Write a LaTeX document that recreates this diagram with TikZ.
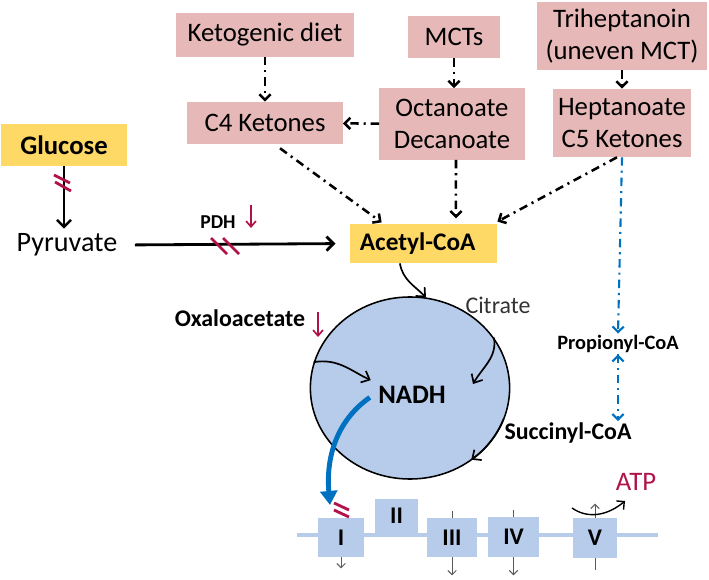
\documentclass[tikz,border=0pt]{standalone}
\usepackage{fontspec}
\setmainfont{Carlito}
\usetikzlibrary{arrows.meta,positioning,shapes.geometric}
\definecolor{dietpink}{RGB}{230,185,184}
\definecolor{fuelyellow}{RGB}{255,217,102}
\definecolor{cycleblue}{RGB}{183,204,234}
\definecolor{blockred}{RGB}{176,18,74}
\definecolor{nadhblue}{RGB}{0,112,192}

\begin{document}
\begin{tikzpicture}[x=0.025cm, y=0.025cm,
    diet/.style={rectangle, fill=dietpink, inner sep=0pt, align=center,
      font=\fontsize{19}{22.5}\selectfont},
    fuel/.style={rectangle, fill=fuelyellow, inner sep=0pt,
      font=\fontsize{18}{21}\selectfont\bfseries},
    cplx/.style={rectangle, fill=cycleblue, inner sep=0pt,
      font=\fontsize{17}{20}\selectfont\bfseries},
    tag/.style={inner sep=1pt, font=\fontsize{17}{20}\selectfont\bfseries},
    feed/.style={line width=1.8pt, dash pattern=on 6pt off 3.5pt on 1.5pt off 3.5pt,
      -{Straight Barb[length=4pt,width=8pt]}},
    odd/.style={feed, draw=nadhblue, line width=1.5pt},
    flow/.style={line width=1.8pt, -{Straight Barb[length=5pt,width=10pt]}},
    turn/.style={line width=1.2pt, -{Straight Barb[length=5pt,width=9pt]}},
    block/.style={draw=blockred, line width=2pt},
    drop/.style={draw=blockred, line width=1.2pt, -{Straight Barb[length=4pt,width=7pt]}},
    pump/.style={draw=black!65, line width=0.7pt, -{Straight Barb[length=3pt,width=6pt]}}]
  \useasboundingbox (0,0) rectangle (709,579);

  % diets and their products
  \node [diet, minimum width=4.43cm, minimum height=1.08cm] (keto) at (265,544) {Ketogenic diet};
  \node [diet, minimum width=2.30cm, minimum height=1.05cm] (mct) at (454,542) {MCTs};
  \node [diet, minimum width=4.23cm, minimum height=1.70cm] (trihep) at (622,543) {Triheptanoin\\(uneven MCT)};
  \node [diet, minimum width=3.88cm, minimum height=1.05cm] (c4) at (265,456) {C4 Ketones};
  \node [diet, minimum width=3.63cm, minimum height=1.78cm] (octa) at (452,455) {Octanoate\\Decanoate};
  \node [diet, minimum width=3.45cm, minimum height=1.70cm] (hept) at (622,456) {Heptanoate\\C5 Ketones};

  % glycolysis
  \node [fuel, minimum width=3.15cm, minimum height=1.05cm, font=\fontsize{19}{22}\selectfont\bfseries] (glucose) at (64,434) {Glucose};
  \node [font=\fontsize{20}{24}\selectfont] (pyruvate) at (67,334) {Pyruvate};
  \node [fuel, minimum width=3.68cm, minimum height=0.98cm, text width=3.18cm] (acetyl) at (423.5,335.5) {Acetyl-CoA};
  \node [tag, font=\fontsize{14}{17}\selectfont\bfseries] (pdh) at (218,357) {PDH};

  % citric acid cycle
  \node [ellipse, draw, line width=1.1pt, fill=cycleblue, minimum width=4.98cm, minimum height=4.55cm] (tca) at (410,191) {};
  \node [font=\fontsize{19}{22}\selectfont\bfseries] (nadh) at (412,184) {NADH};
  \node [font=\fontsize{17}{20}\selectfont, text=black!80] (citrate) at (498,274) {Citrate};
  \node [tag] (oxalo) at (240,261) {Oxaloacetate};
  \node [tag] (succinyl) at (568,146) {Succinyl-CoA};
  \node [tag, font=\fontsize{14.5}{17}\selectfont\bfseries] (propionyl) at (618,235) {Propionyl-CoA};

  % respiratory chain
  \draw [cycleblue, line width=3.5pt] (297,44) -- (658,44);
  \node [cplx, minimum width=1.15cm, minimum height=0.98cm] (cI) at (341,41.5) {I};
  \node [cplx, minimum width=1.08cm, minimum height=0.85cm] (cII) at (396.5,63) {II};
  \node [cplx, minimum width=1.25cm, minimum height=0.98cm] (cIII) at (452,41.5) {III};
  \node [cplx, minimum width=1.28cm, minimum height=1.00cm] (cIV) at (513.5,42) {IV};
  \node [cplx, minimum width=1.10cm, minimum height=1.00cm] (cV) at (595,41) {V};
  \node [font=\fontsize{19}{22}\selectfont, text=blockred] (atp) at (636,97) {ATP};
  \coordinate (citin) at (473,195);
  \coordinate (ctip) at (330,74);
  \coordinate (atpin) at (572,71);
  \coordinate (atpout) at (625,78);

  \path [feed]
    (keto) edge (c4)
    (mct.south) edge (mct.south |- octa.north)
    (trihep) edge (hept)
    (octa) edge (c4)
    ([xshift=0.375cm,yshift=-0.1cm]c4.south) edge ([xshift=0.8cm,yshift=0.03cm]acetyl.north west)
    ([xshift=0.1cm]octa.south) edge ([xshift=0.81cm,yshift=0.13cm]acetyl.north)
    ([xshift=-0.125cm]hept.south) edge ([yshift=0.05cm]acetyl.north east);
  \path [odd]
    (hept.south) edge (propionyl.north)
    (propionyl.south) edge (propionyl.south |- succinyl.north);

  \draw [flow] (glucose.south) -- (glucose.south |- pyruvate.north);
  \draw [flow, line width=2pt, shorten <=9pt, shorten >=10pt] (pyruvate.east) -- (acetyl.west);

  \draw [turn] ([xshift=-0.59cm]acetyl.south) to [out=-80, in=135] (tca.80);
  \draw [turn] (tca.31) to [out=-80, in=60] (citin);
  \draw [turn, shorten >=2pt] (tca.165) to [out=10, in=155] (nadh.north west);
  \draw [turn] ([shift={(-20:99.5 and 91)}]tca.center) arc [start angle=-20, end angle=-52, x radius=99.5, y radius=91];
  \draw [nadhblue, line width=3.5pt, shorten <=3pt, -{Triangle[length=10pt,width=12pt]}]
    (nadh.west) to [out=215, in=95] (ctip);

  % blocks and decreases
  \draw [block] (54,404) -- (70,396) (55,397) -- (71,388);
  \draw [block] (211,341) -- (227,325) (223,341) -- (239,325);
  \draw [block] (334,76) -- (349,69) (334,69) -- (349,62);
  \draw [drop] (251,374) -- (251,351);
  \draw [drop] (318,267) -- (318,242);

  % protons and ATP
  \draw [pump] (cI.south) -- ++(0,-11);
  \draw [draw=black!65, line width=0.7pt] (cIII.north) -- ++(0,7);
  \draw [pump] (cIII.south) -- ++(0,-18);
  \draw [draw=black!65, line width=0.7pt] (cIV.north) -- ++(0,7);
  \draw [pump] (cIV.south) -- ++(0,-18);
  \draw [draw=black!65, line width=0.7pt] (cV.south) -- ++(0,-12);
  \draw [pump] (cV.north) -- ++(0,14);
  \draw [line width=1pt, -{Straight Barb[length=4pt,width=8pt]}] (atpin) to [out=-35, in=-140] (atpout);
\end{tikzpicture}
\end{document}
